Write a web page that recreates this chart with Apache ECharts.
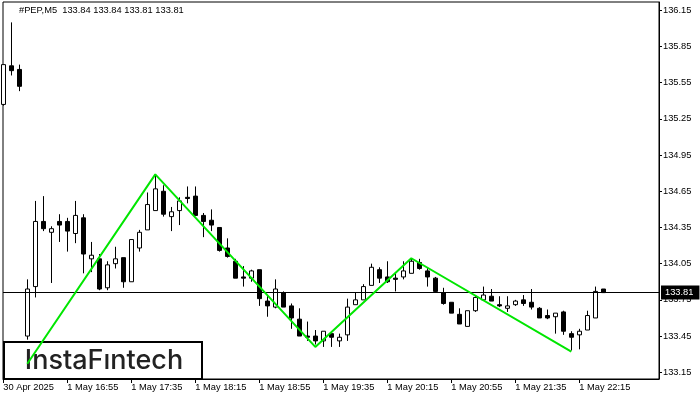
<!DOCTYPE html>
<html><head><meta charset="utf-8">
<script src="https://cdn.jsdelivr.net/npm/echarts@6/dist/echarts.min.js"></script>
<style>html,body{margin:0;padding:0;background:#fff}#c{width:700px;height:400px}</style>
</head><body><div id="c"></div>
<script>
const symbolTitle = '#PEP,M5  133.84 133.84 133.81 133.81';
const opens  = [135.37,135.69,135.66,133.45,133.86,134.40,134.31,134.40,134.40,134.30,
                134.43,134.09,134.09,133.85,134.05,134.10,133.90,134.18,134.33,134.49,
                134.65,134.44,134.49,134.60,134.61,134.45,134.41,134.35,134.18,134.07,
                133.94,133.93,134.00,133.74,133.69,133.81,133.70,133.59,133.45,133.45,
                133.41,133.47,133.41,133.46,133.71,133.75,133.87,134.00,133.94,133.93,
                133.94,133.97,134.06,133.99,133.93,133.81,133.73,133.63,133.53,133.66,
                133.75,133.78,133.71,133.68,133.71,133.75,133.73,133.68,133.62,133.61,
                133.65,133.47,133.46,133.50,133.60,133.84];
const highs  = [135.70,136.05,135.70,133.92,134.57,134.61,134.36,134.46,134.43,134.57,
                134.46,134.23,134.13,134.07,134.19,134.10,134.25,134.33,134.64,134.79,
                134.70,134.52,134.60,134.69,134.69,134.47,134.50,134.35,134.26,134.09,
                134.03,134.00,134.00,133.79,133.92,133.82,133.72,133.68,133.57,133.50,
                133.49,133.47,133.47,133.76,133.81,133.88,134.05,134.02,134.07,133.97,
                134.07,134.09,134.09,134.02,133.94,133.85,133.73,133.68,133.66,133.79,
                133.86,133.84,133.78,133.78,133.75,133.79,133.84,133.69,133.67,133.64,
                133.66,133.49,133.51,133.66,133.86,133.84];
const lows   = [135.36,135.61,135.48,133.42,133.77,134.32,133.89,134.23,134.15,134.22,
                133.97,133.98,133.83,133.83,134.01,133.85,133.90,134.15,134.33,134.49,
                134.44,134.32,134.37,134.55,134.45,134.27,134.32,134.15,134.10,133.93,
                133.86,133.90,133.70,133.61,133.68,133.69,133.51,133.45,133.41,133.38,
                133.36,133.36,133.36,133.41,133.71,133.75,133.87,133.89,133.89,133.82,
                133.92,133.97,134.00,133.86,133.81,133.71,133.64,133.55,133.53,133.65,
                133.75,133.74,133.69,133.65,133.70,133.70,133.67,133.60,133.59,133.47,
                133.46,133.33,133.34,133.50,133.60,133.81];
const closes = [135.70,135.65,135.52,133.84,134.40,134.34,134.34,134.37,134.32,134.45,
                134.13,134.12,133.84,134.04,134.09,133.90,134.25,134.31,134.54,134.67,
                134.46,134.48,134.57,134.59,134.45,134.40,134.37,134.16,134.11,133.93,
                133.93,133.99,133.76,133.70,133.84,133.69,133.60,133.45,133.44,133.41,
                133.49,133.44,133.44,133.69,133.75,133.86,134.02,133.93,133.90,133.92,
                133.99,134.07,134.01,133.94,133.82,133.72,133.64,133.55,133.66,133.77,
                133.79,133.74,133.70,133.70,133.74,133.72,133.69,133.60,133.60,133.64,
                133.49,133.44,133.49,133.62,133.82,133.81];
const patternIdx   = [3, 19, 39, 51, 71];
const patternPrice = [133.22, 134.79, 133.36, 134.095, 133.32];
const xTickIdx    = [0, 8, 16, 24, 32, 40, 48, 56, 64, 72];
const xTickLabels = ['30 Apr 2025','1 May 16:55','1 May 17:35','1 May 18:15','1 May 18:55',
                     '1 May 19:35','1 May 20:15','1 May 20:55','1 May 21:35','1 May 22:15'];
const yTicks = [133.15,133.45,133.75,134.05,134.35,134.65,134.95,135.25,135.55,135.85,136.15];
const lastPrice = 133.81;
const logoText = 'InstaFıntech';

const FONT = '"Liberation Sans", Arial, sans-serif';
const FS = 9.3;
const chart = echarts.init(document.getElementById('c'), null, {renderer: 'canvas'});
const candles = opens.map((o, i) => [i, o, closes[i], lows[i], highs[i]]);
chart.setOption({
  animation: false,
  title: {text: symbolTitle, left: 19, top: 6, padding: 0,
    textStyle: {fontFamily: FONT, fontSize: FS, fontWeight: 'normal', color: '#000'}},
  grid: {left: 3, top: 2, width: 656, height: 377, show: true, borderColor: '#000', borderWidth: 1, backgroundColor: '#fff'},
  xAxis: {type: 'value', min: -0.0375, max: 81.9625, splitLine: {show: false},
    axisLine: {show: true, onZero: false, lineStyle: {color: '#000', width: 1}},
    axisTick: {show: true, length: 4, customValues: xTickIdx, lineStyle: {color: '#000'}},
    axisLabel: {customValues: xTickIdx, formatter: v => xTickLabels[xTickIdx.indexOf(v)],
      align: 'left', margin: 4, fontFamily: FONT, fontSize: FS, color: '#000', hideOverlap: false}},
  yAxis: {type: 'value', position: 'right', min: 133.094, max: 136.219, splitLine: {show: false},
    axisLine: {show: true, onZero: false, lineStyle: {color: '#000', width: 1}},
    axisTick: {show: true, length: 3, customValues: yTicks, lineStyle: {color: '#000'}},
    axisLabel: {customValues: yTicks, formatter: v => v.toFixed(2), margin: 4,
      fontFamily: FONT, fontSize: FS, color: '#000', hideOverlap: false}},
  series: [
    {type: 'candlestick', data: candles, encode: {x: 0, y: [1, 2, 3, 4]}, barWidth: 5,
      itemStyle: {color: '#fff', color0: '#000', borderColor: '#000', borderColor0: '#000', borderWidth: 1},
      emphasis: {disabled: true},
      markLine: {silent: true, symbol: ['none', 'none'], animation: false,
        data: [{yAxis: lastPrice}],
        lineStyle: {color: '#000', type: 'solid', width: 1},
        emphasis: {disabled: true},
        label: {position: 'end', distance: 2, formatter: () => lastPrice.toFixed(2),
          backgroundColor: '#000', color: '#fff', padding: [3, 6, 2, 4],
          fontFamily: FONT, fontSize: FS}}},
    {type: 'line', data: patternIdx.map((x, i) => [x, patternPrice[i]]), symbol: 'none', z: 5,
      lineStyle: {color: '#00e600', width: 2}, emphasis: {disabled: true}}
  ],
  graphic: [{type: 'group', left: 3, top: 341, z: 100, children: [
    {type: 'rect', shape: {x: 0, y: 0, width: 198, height: 37}, style: {fill: '#fff', stroke: '#000', lineWidth: 2}},
    {type: 'text', x: 100, y: 19, style: {text: logoText, fontFamily: 'Inter', fontSize: 27, fontWeight: 500,
      fill: '#222', align: 'center', verticalAlign: 'middle'}}
  ]}]
});
</script>
</body></html>
